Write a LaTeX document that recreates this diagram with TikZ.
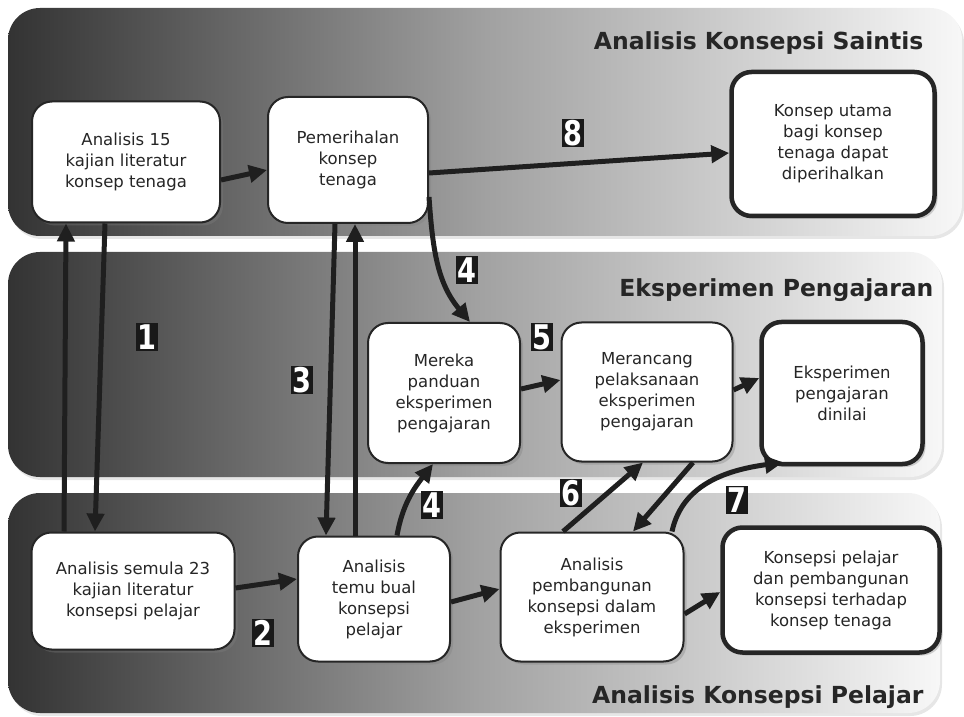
\documentclass[tikz,border=0pt]{standalone}
\usepackage{fontspec}
\setmainfont{DejaVu Sans}
\usetikzlibrary{arrows.meta,shadows}

\newcommand{\stepno}[1]{\scalebox{0.8}[1]{#1}}

\begin{document}
\begin{tikzpicture}[x=1pt, y=1pt,
    band/.style={rounded corners=32pt, left color=black!80, right color=black!3, middle color=black!37,
        drop shadow={shadow xshift=2pt, shadow yshift=-3pt, opacity=0.2}},
    box/.style={draw=black!85, line width=2pt, fill=white, rounded corners=20pt, align=center,
        font=\fontsize{16.5}{21}\selectfont, text=black!85, inner sep=4pt,
        drop shadow={shadow xshift=3pt, shadow yshift=-3pt, opacity=0.35}},
    endbox/.style={box, line width=4.5pt},
    flow/.style={line width=5pt, draw=black!88, -{Triangle[length=18pt,width=17pt]}},
    numlab/.style={fill=black!90, text=white, font=\fontsize{34}{34}\selectfont\bfseries,
        inner xsep=1.5pt, inner ysep=1.5pt},
    head/.style={font=\fontsize{23.5}{23.5}\selectfont\bfseries, text=black!85, anchor=east}
]

    \useasboundingbox (0,0) rectangle (964,716);

    % three bands
    \shade[band] (8,480) rectangle (962,708);
    \shade[band] (8,239) rectangle (942,464);
    \shade[band] (8,3) rectangle (940,223);

    \node[head] (hSaintis) at (927,673) {Analisis Konsepsi Saintis};
    \node[head] (hEksp) at (937,426) {Eksperimen Pengajaran};
    \node[head] (hPelajar) at (927,19) {Analisis Konsepsi Pelajar};

    % boxes
    \node[box, minimum width=188pt, minimum height=121pt] (kajian15) at (126,554)
        {Analisis 15\\kajian literatur\\konsep tenaga};
    \node[box, minimum width=160pt, minimum height=126pt] (perihal) at (348,556)
        {Pemerihalan\\konsep\\tenaga};
    \node[endbox, minimum width=203pt, minimum height=144pt] (utama) at (833,572)
        {Konsep utama\\bagi konsep\\tenaga dapat\\diperihalkan};

    \node[box, minimum width=152pt, minimum height=140pt] (panduan) at (444,323)
        {Mereka\\panduan\\eksperimen\\pengajaran};
    \node[box, minimum width=171pt, minimum height=139pt] (rancang) at (647,324)
        {Merancang\\pelaksanaan\\eksperimen\\pengajaran};
    \node[endbox, minimum width=161pt, minimum height=142pt] (dinilai) at (842,323)
        {Eksperimen\\pengajaran\\dinilai};

    \node[box, minimum width=203pt, minimum height=117pt] (kajian23) at (133,125)
        {Analisis semula 23\\kajian literatur\\konsepsi pelajar};
    \node[box, minimum width=152pt, minimum height=125pt] (temubual) at (374,117)
        {Analisis\\temu bual\\konsepsi\\pelajar};
    \node[box, minimum width=183pt, minimum height=129pt] (bangun) at (592,119)
        {Analisis\\pembangunan\\konsepsi dalam\\eksperimen};
    \node[endbox, minimum width=217pt, minimum height=125pt] (hasil) at (831,126)
        {Konsepsi pelajar\\dan pembangunan\\konsepsi terhadap\\konsep tenaga};

    % arrows
    \draw[flow] ([yshift=-18pt]kajian15.east) -- ([yshift=-10pt]perihal.west);
    \draw[flow] ([yshift=-13pt]perihal.east) -- ([yshift=-9pt]utama.west);
    \draw[flow] ([xshift=-69pt]kajian23.north) -- ([xshift=-60pt]kajian15.south);
    \draw[flow] ([xshift=-21pt]kajian15.south) -- ([xshift=-38pt]kajian23.north);
    \draw[flow] ([xshift=-13pt]perihal.south) -- ([xshift=-48pt]temubual.north);
    \draw[flow] ([xshift=-19pt]temubual.north) -- ([xshift=7pt]perihal.south);
    \draw[flow] ([yshift=-37pt]perihal.east) to[out=-86, in=130] ([xshift=26pt]panduan.north);
    \draw[flow] ([xshift=23pt]temubual.north) to[out=80, in=-128] ([xshift=-11pt]panduan.south);
    \draw[flow] ([yshift=3pt]kajian23.east) -- ([yshift=20pt]temubual.west);
    \draw[flow] ([yshift=-3pt]temubual.east) -- ([yshift=8pt]bangun.west);
    \draw[flow] ([yshift=4pt]panduan.east) -- ([yshift=12pt]rancang.west);
    \draw[flow] ([yshift=2pt]rancang.east) -- ([yshift=15pt]dinilai.west);
    \draw[flow] ([xshift=-29pt]bangun.north) -- ([xshift=-4pt]rancang.south);
    \draw[flow] ([xshift=46pt]rancang.south) -- ([xshift=41pt]bangun.north);
    \draw[flow] ([xshift=80pt]bangun.north) to[out=78, in=188] ([xshift=-59pt,yshift=4pt]dinilai.south);
    \draw[flow] ([yshift=-17pt]bangun.east) -- ([yshift=-2pt]hasil.west);

    % step numbers
    \node[numlab] (n1) at (147,379) {\stepno{1}};
    \node[numlab] (n2) at (263,83) {\stepno{2}};
    \node[numlab] (n3) at (302,336) {\stepno{3}};
    \node[numlab] (n4a) at (467,446) {\stepno{4}};
    \node[numlab] (n4b) at (432,211) {\stepno{4}};
    \node[numlab] (n5) at (542,379) {\stepno{5}};
    \node[numlab] (n6) at (571,223) {\stepno{6}};
    \node[numlab] (n7) at (737,216) {\stepno{7}};
    \node[numlab] (n8) at (573,583) {\stepno{8}};

\end{tikzpicture}
\end{document}
